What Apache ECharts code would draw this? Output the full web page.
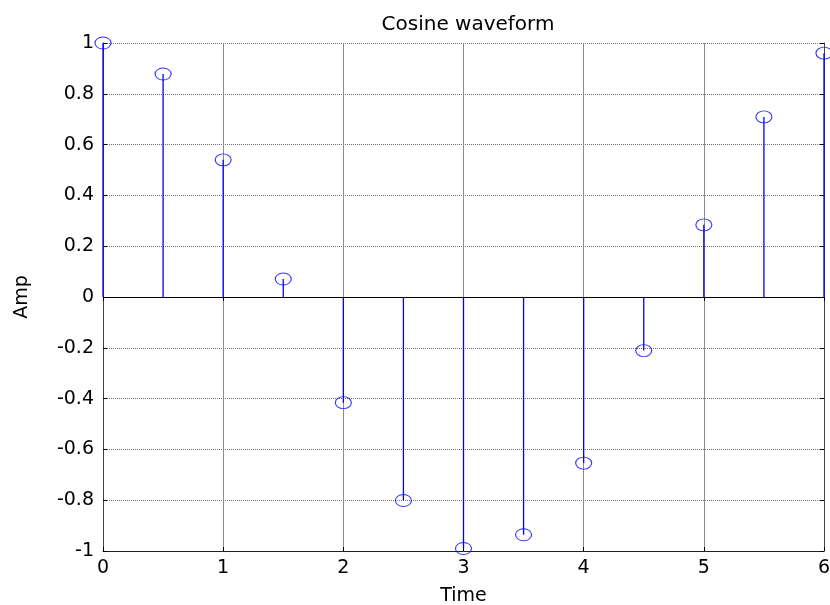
<!DOCTYPE html>
<html>
<head>
<meta charset="utf-8">
<script src="https://cdn.jsdelivr.net/npm/echarts@6/dist/echarts.min.js"></script>
<style>
  html, body { margin: 0; padding: 0; background: #fff; }
  #chart { width: 830px; height: 605px; }
</style>
</head>
<body>
<div id="chart"></div>
<script>
// Sample times and cosine amplitudes for the stem plot
var times = [0, 0.5, 1, 1.5, 2, 2.5, 3, 3.5, 4, 4.5, 5, 5.5, 6];
var amps = [1.0, 0.878, 0.540, 0.071, -0.416, -0.801, -0.990, -0.936, -0.654, -0.211, 0.284, 0.709, 0.960];
var xTicks = [0, 1, 2, 3, 4, 5, 6];
var yTicks = [-1, -0.8, -0.6, -0.4, -0.2, 0, 0.2, 0.4, 0.6, 0.8, 1];

var points = times.map(function (t, i) { return [t, amps[i]]; });
var FONT = 'DejaVu Sans, Liberation Sans, Arial, sans-serif';
var FS = 19;

var chart = echarts.init(document.getElementById('chart'), null, { renderer: 'canvas' });
chart.setOption({
  animation: false,
  backgroundColor: '#fff',
  title: {
    text: 'Cosine waveform',
    left: 463, top: 10, textAlign: 'center',
    textStyle: { fontFamily: FONT, fontSize: 20, fontWeight: 'normal', color: '#000' }
  },
  grid: { left: 103, right: 6, top: 43, bottom: 54, containLabel: false, outerBoundsMode: 'none' },
  xAxis: [{
    type: 'value', min: 0, max: 6, interval: 1,
    name: 'Time', nameLocation: 'middle', nameGap: 36,
    nameTextStyle: { fontFamily: FONT, fontSize: FS, color: '#000' },
    axisLine: { show: true, onZero: false, lineStyle: { color: '#222', width: 1 } },
    axisTick: { show: true, inside: true, length: 4, lineStyle: { color: '#000' } },
    axisLabel: { fontFamily: FONT, fontSize: FS, color: '#000', margin: 8,
      formatter: function (v) { return xTicks.indexOf(v) >= 0 ? String(v) : ''; } },
    splitLine: { show: true, lineStyle: { color: '#8c8c8c', width: 1, type: 'solid' } }
  }, {
    type: 'value', min: 0, max: 6, interval: 1, position: 'top',
    axisLine: { show: false },
    axisTick: { show: true, inside: true, length: 4, lineStyle: { color: '#000' } },
    axisLabel: { show: false }, splitLine: { show: false }
  }],
  yAxis: [{
    type: 'value', min: -1, max: 1, interval: 0.2,
    name: 'Amp', nameLocation: 'middle', nameGap: 71, nameRotate: 90,
    nameTextStyle: { fontFamily: FONT, fontSize: FS, color: '#000' },
    axisLine: { show: true, onZero: false, lineStyle: { color: '#444', width: 1 } },
    axisTick: { show: true, inside: true, length: 4, lineStyle: { color: '#000' } },
    axisLabel: { fontFamily: FONT, fontSize: FS, color: '#000', margin: 9,
      formatter: function (v) {
        var r = Math.round(v * 10) / 10;
        return yTicks.indexOf(r) >= 0 ? String(r) : '';
      } },
    splitLine: { show: true, lineStyle: { color: '#6e6e6e', width: 1, type: [1, 1] } }
  }, {
    type: 'value', min: -1, max: 1, interval: 0.2, position: 'right',
    axisLine: { show: true, onZero: false, lineStyle: { color: '#444', width: 1 } },
    axisTick: { show: true, inside: true, length: 4, lineStyle: { color: '#000' } },
    axisLabel: { show: false }, splitLine: { show: false }
  }],
  series: [{
    // stems from the zero baseline to each sample
    type: 'custom',
    xAxisIndex: 0, yAxisIndex: 0,
    data: points,
    z: 3,
    clip: false,
    renderItem: function (params, api) {
      var base = api.coord([api.value(0), 0]);
      var tip = api.coord([api.value(0), api.value(1)]);
      return {
        type: 'line',
        shape: { x1: base[0], y1: base[1], x2: tip[0], y2: tip[1] },
        style: { stroke: '#0000ff', lineWidth: 1.3 }
      };
    },
    markLine: {
      silent: true, symbol: 'none', animation: false,
      label: { show: false },
      lineStyle: { color: '#000', width: 1, type: 'solid' },
      data: [{ yAxis: 0 }]
    }
  }, {
    // open ellipse markers at each sample
    type: 'scatter',
    xAxisIndex: 0, yAxisIndex: 0,
    data: points,
    z: 4,
    symbol: 'circle',
    symbolSize: [16, 12],
    itemStyle: { color: 'rgba(0,0,0,0)', borderColor: '#0000ff', borderWidth: 1 },
    clip: false
  }]
});
</script>
</body>
</html>
